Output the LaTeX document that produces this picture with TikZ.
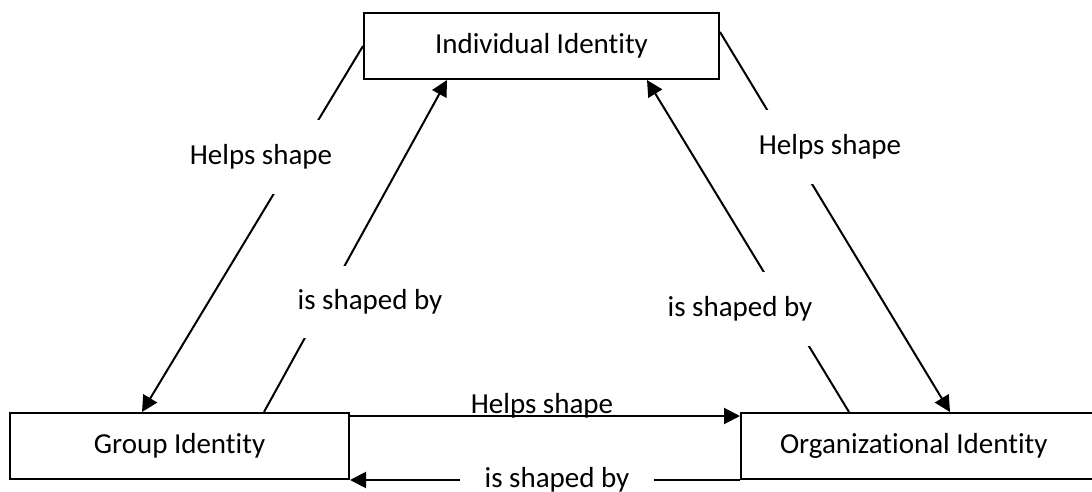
\documentclass[tikz,border=0pt]{standalone}
\usepackage{fontspec}
\setmainfont{Carlito}[Ligatures=NoCommon]
\usetikzlibrary{arrows.meta}

\begin{document}
\begin{tikzpicture}[x=0.5pt,y=-0.5pt,
 idbox/.style={draw,line width=1pt,minimum height=33pt,inner sep=0pt},
 link/.style={line width=1pt,-{Triangle[length=8pt,width=8pt]}},
 gap/.style={fill=white,inner xsep=4pt,inner ysep=0pt},
 font=\fontsize{14.5}{17}\selectfont]
 \clip (0,0) rectangle (1092,492);
 \node[idbox,minimum width=177.5pt] (indiv) at (541.5,46) {Individual Identity};
 \node[idbox,minimum width=169.5pt] (group) at (179.5,446) {Group Identity};
 \node[idbox,anchor=west,inner xsep=19.5pt,text width=146pt,align=flush left] (org) at (740,446) {Organizational Identity};
 \draw[link] (indiv.west) -- ([xshift=66.5pt]group.north west);
 \draw[link] ([xshift=127.5pt]group.north west) -- ([xshift=42pt]indiv.south west);
 \draw[link] ([yshift=-10pt]indiv.north east) -- ([xshift=105pt]org.north west);
 \draw[link] ([xshift=54.5pt]org.north west) -- ([xshift=142pt]indiv.south west);
 \draw[link] ([yshift=-2pt]group.north east) -- ([yshift=-2pt]org.north west);
 \draw[link] (org.south west) -- (group.south east);
%labels sit on white boxes that break the lines
 \node[gap,minimum height=37pt] (hsleft) at (261,157) {Helps shape};
 \node[gap,minimum height=36pt] (isbleft) at (370,302) {is shaped by};
 \node[gap,minimum height=36.5pt] (hsright) at (830,147) {Helps shape};
 \node[gap,minimum height=37pt] (isbright) at (740,309) {is shaped by};
 \node[anchor=base] (hsbottom) at (542,413) {Helps shape};
 \node[gap,inner xsep=12.5pt,minimum height=20pt] (isbbottom) at (557,480) {is shaped by};
\end{tikzpicture}
\end{document}
